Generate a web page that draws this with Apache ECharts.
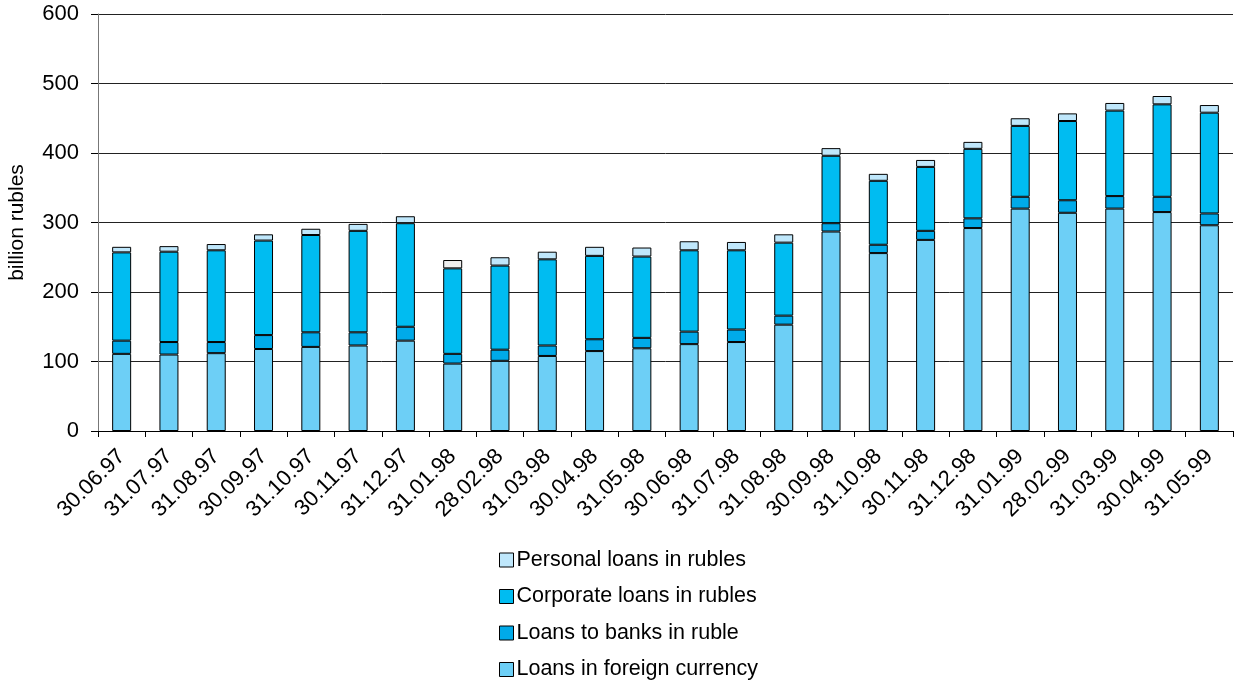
<!DOCTYPE html>
<html>
<head>
<meta charset="utf-8">
<script src="https://cdn.jsdelivr.net/npm/echarts@6/dist/echarts.min.js"></script>
<style>
  html, body { margin: 0; padding: 0; background: #fff; }
  #chart { width: 1239px; height: 684px; }
</style>
</head>
<body>
<div id="chart"></div>
<script>
// dates (x axis)
const dates = ['30.06.97','31.07.97','31.08.97','30.09.97','31.10.97','30.11.97','31.12.97',
  '31.01.98','28.02.98','31.03.98','30.04.98','31.05.98','30.06.98','31.07.98','31.08.98',
  '30.09.98','31.10.98','30.11.98','31.12.98','31.01.99','28.02.99','31.03.99','30.04.99','31.05.99']

// billion rubles
const foreignLoans   = [111,110,112,118,121,123,130, 97,101,108,115,119,125,128,153,287,256,275,292,320,314,320,315,296]
const bankLoans      = [ 19, 18, 16, 20, 21, 19, 20, 14, 16, 15, 17, 15, 18, 18, 13, 12, 12, 13, 14, 17, 18, 18, 22, 17]
const corporateLoans = [127,130,132,136,140,146,149,123,121,124,120,117,117,114,105, 97, 92, 92,100,102,114,123,133,145]
const personalLoans  = [  8,  8,  9,  9,  9, 10, 10, 12, 12, 11, 13, 13, 13, 12, 12, 11, 10, 10, 10, 11, 11, 11, 12, 11]

const yTicks = [0, 100, 200, 300, 400, 500, 600]

const font = 'Liberation Sans'
const myChart = echarts.init(document.getElementById('chart'))

const mkSeries = (name, data, color) => ({
  name: name,
  type: 'bar',
  stack: 'loans',
  barWidth: 19,
  data: data,
  itemStyle: { color: color, borderColor: '#000', borderWidth: 1 }
})

// the personal block in January 1998 is drawn grey in the original
const personalData = personalLoans.map((v, i) => i === 7 ? { value: v, itemStyle: { color: '#efefef' } } : v)

const option = {
  animation: false,
  textStyle: { fontFamily: font },
  grid: { left: 98, right: 6, top: 14, bottom: 253, containLabel: false, outerBoundsMode: 'none' },
  legend: {
    orient: 'vertical',
    left: 494,
    top: 544,
    height: 200,
    itemWidth: 14,
    itemHeight: 14,
    itemGap: 14.5,
    icon: 'rect',
    textStyle: { fontSize: 21.5, color: '#000', fontFamily: font, padding: [0, 0, 0, -2] },
    itemStyle: { borderColor: '#000', borderWidth: 1 },
    data: ['Personal loans in rubles', 'Corporate loans in rubles', 'Loans to banks in ruble', 'Loans in foreign currency']
  },
  xAxis: {
    type: 'category',
    data: dates,
    axisLine: { lineStyle: { color: '#000', width: 1 } },
    axisTick: { show: true, length: 6, lineStyle: { color: '#000' } },
    axisLabel: { rotate: 45, fontSize: 22, color: '#000', margin: 22, interval: 0, fontFamily: font }
  },
  yAxis: {
    type: 'value',
    min: yTicks[0],
    max: yTicks[yTicks.length - 1],
    interval: 100,
    name: 'billion rubles',
    nameLocation: 'middle',
    nameGap: 70,
    nameTextStyle: { fontSize: 21, color: '#000', fontFamily: font },
    axisLine: { show: true, lineStyle: { color: '#777', width: 1 } },
    axisTick: { show: true, length: 7, lineStyle: { color: '#000' } },
    axisLabel: { fontSize: 22, color: '#000', margin: 19, fontFamily: font },
    splitLine: { lineStyle: { color: '#222', width: 1 } }
  },
  series: [
    mkSeries('Loans in foreign currency', foreignLoans, '#6dcff6'),
    mkSeries('Loans to banks in ruble', bankLoans, '#00aae9'),
    mkSeries('Corporate loans in rubles', corporateLoans, '#00bcf1'),
    mkSeries('Personal loans in rubles', personalData, '#bfe7fb')
  ]
}

myChart.setOption(option, true)
window.onresize = myChart.resize
</script>
</body>
</html>
